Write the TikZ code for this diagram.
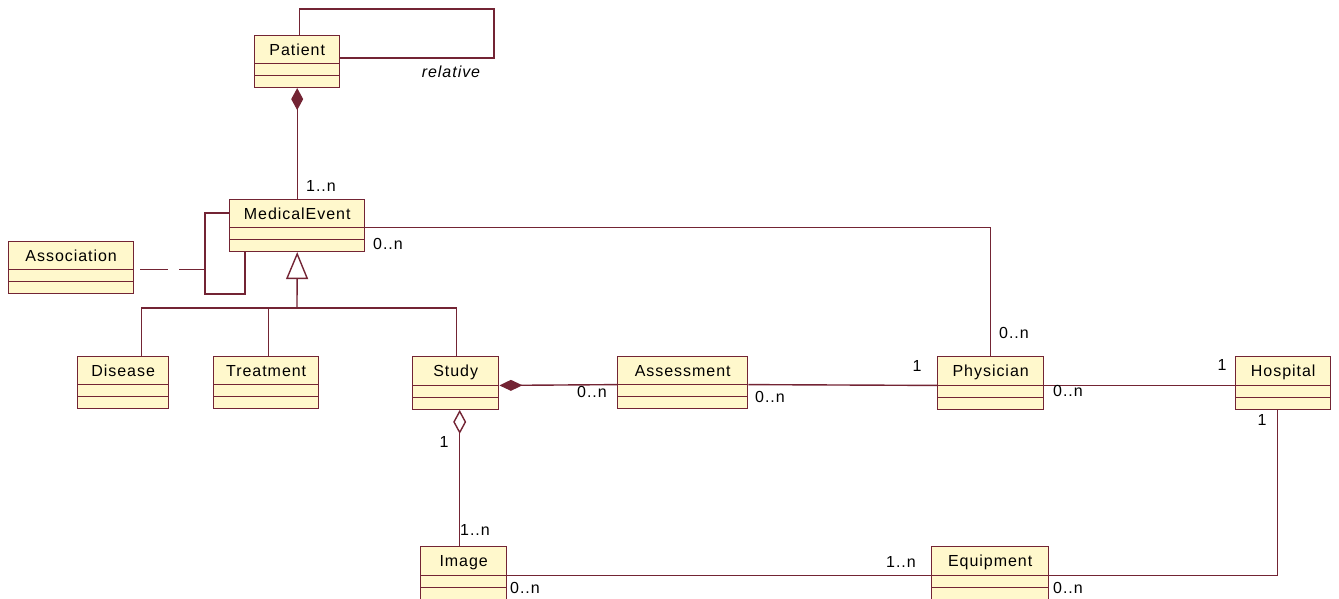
\documentclass[tikz,border=0pt]{standalone}
\usepackage{fontspec}
\newfontfamily\umlfont[LetterSpace=6]{Liberation Sans}
\usetikzlibrary{shapes.multipart}
\usetikzlibrary{arrows.meta}
\usetikzlibrary{calc}
\definecolor{umlline}{RGB}{115,36,52}
\definecolor{umlfill}{RGB}{255,248,204}
\tikzstyle{umlclass} = [rectangle split, rectangle split parts=3, draw=umlline,
fill=umlfill, line width=1.4pt, inner xsep=2pt, inner ysep=4.5pt,
anchor=north west, font=\umlfont\fontsize{16}{18}\selectfont]
\tikzstyle{link} = [draw=umlline, line width=1.4pt]
\tikzstyle{mult} = [font=\umlfont\fontsize{16}{18}\selectfont, inner sep=0pt]
\newcommand{\tall}{\rule[-2.5pt]{0pt}{17.5pt}}
\newcommand{\gap}{\rule{0pt}{1.5pt}}

\begin{document}
\begin{tikzpicture}[x=1pt, y=-1pt]
\useasboundingbox (0,0) rectangle (1339,598);
\node [umlclass, minimum width=85pt] (patient) at (254,35) {\tall Patient \nodepart{second}\gap \nodepart{third}\gap};
\node [umlclass, minimum width=135pt] (event) at (229,199) {\tall MedicalEvent \nodepart{second}\gap \nodepart{third}\gap};
\node [umlclass, minimum width=125pt] (association) at (8,241) {\tall Association \nodepart{second}\gap \nodepart{third}\gap};
\node [umlclass, minimum width=91pt] (disease) at (77,356) {\tall Disease \nodepart{second}\gap \nodepart{third}\gap};
\node [umlclass, minimum width=105pt] (treatment) at (213,356) {\tall Treatment \nodepart{second}\gap \nodepart{third}\gap};
\node [umlclass, minimum width=86pt] (study) at (412,356) {\tall Study \nodepart{second}\gap \nodepart{third}\gap};
\node [umlclass, minimum width=130pt] (assessment) at (617,356) {\tall Assessment \nodepart{second}\gap \nodepart{third}\gap};
\node [umlclass, minimum width=106pt] (physician) at (937,356) {\tall Physician \nodepart{second}\gap \nodepart{third}\gap};
\node [umlclass, minimum width=95pt] (hospital) at (1235,356) {\tall Hospital \nodepart{second}\gap \nodepart{third}\gap};
\node [umlclass, minimum width=86pt] (image) at (420,546) {\tall Image \nodepart{second}\gap \nodepart{third}\gap};
\node [umlclass, minimum width=117pt] (equipment) at (931,546) {\tall Equipment \nodepart{second}\gap \nodepart{third}\gap};

\coordinate (rel1) at (494,9);
\coordinate (rel2) at (494,58);
\draw [link] ($(patient.north)+(2.5,0)$) |- (rel1) -- (rel2) -- (rel2 -| patient.east);
\draw [link, {Diamond[length=22pt,width=12pt]}-] (patient.south) -- (event.north);

\coordinate (ac1) at (205,213);
\coordinate (ac2) at (245,294);
\draw [link] (ac1 -| event.west) -- (ac1) |- (ac2) -- (ac2 |- event.south);
\draw [link, dash pattern=on 28pt off 11pt, shorten <=6pt] (association.text split east) -- (association.text split east -| ac1);

\coordinate (fork) at (297,308);
\draw [link, -{Triangle[open,length=27pt,width=22pt]}] (fork) -- (event.south);
\draw [link] ($(disease.north)+(18.5,0)$) |- (fork) -| ($(study.north)+(1,0)$);
\draw [link] ($(treatment.north)+(2.5,0)$) |- (fork);

\draw [link] (event.text split east) -| (physician.north);
\draw [link, {Diamond[length=23pt,width=11pt]}-] (study.text split east) -- (assessment.text split west);
\draw [link] (assessment.text split east) -- (physician.text split west);
\draw [link] (physician.text split east) -- (hospital.text split west);
\draw [link, {Diamond[fill=white,length=24pt,width=13pt]}-] ($(study.south)+(4,0)$) -- ($(image.north)+(-4,0)$);
\draw [link] (image.text split east) -- (equipment.text split west);
\draw [link] ($(hospital.south)+(-5.5,0)$) |- (equipment.text split east);

\node [mult] (relname) at (451,72) {\itshape relative};
\node [mult] (patientmany) at (321,186) {1..n};
\node [mult] (eventmany) at (388,244) {0..n};
\node [mult] (doctorevent) at (1014,333) {0..n};
\node [mult] (doctorone) at (917,366) {1};
\node [mult] (assessmany) at (592,392) {0..n};
\node [mult] (assessright) at (770,397) {0..n};
\node [mult] (hospitalone) at (1222,365) {1};
\node [mult] (doctormany) at (1068,391) {0..n};
\node [mult] (hospitalbelow) at (1262,420) {1};
\node [mult] (studyone) at (444,442) {1};
\node [mult] (imagemany) at (475,530) {1..n};
\node [mult] (imageright) at (525,588) {0..n};
\node [mult] (equipmany) at (901,562) {1..n};
\node [mult] (equipright) at (1068,588) {0..n};
\end{tikzpicture}
\end{document}
